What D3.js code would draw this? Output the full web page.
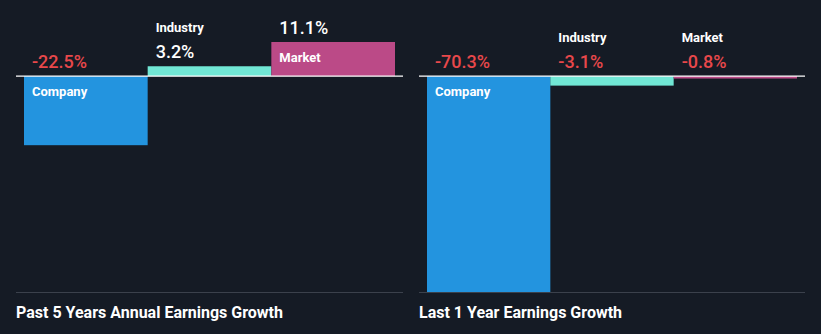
<!DOCTYPE html>
<html>
<head>
<meta charset="utf-8">
<script src="https://cdn.jsdelivr.net/npm/d3@7"></script>
<style>
  html, body { margin: 0; padding: 0; background: #151b25; }
  svg { display: block; font-family: Roboto, "Noto Sans", sans-serif; }
</style>
</head>
<body>
<svg id="chart" width="821" height="334"></svg>
<script>
const categories = ["Company", "Industry", "Market"];
const panelTitles = ["Past 5 Years Annual Earnings Growth", "Last 1 Year Earnings Growth"];
const past5Years = [-22.5, 3.2, 11.1];
const last1Year = [-70.3, -3.1, -0.8];
const colors = ["#2394df", "#71e7d5", "#bb4a87"];

const W = 821, H = 334;
const svg = d3.select("#chart");
svg.append("rect").attr("width", W).attr("height", H).attr("fill", "#151b25");

const allVals = past5Years.concat(last1Year);
const y = d3.scaleLinear()
  .domain([d3.min(allVals), d3.max(allVals)])
  .range([292, 42]);
const y0 = y(0);
const fmt = v => d3.format(".1f")(v).replace("\u2212", "-") + "%";

const panels = [
  { title: panelTitles[0], values: past5Years, x0: 16, x1: 403 },
  { title: panelTitles[1], values: last1Year, x0: 419, x1: 805 }
];

panels.forEach(p => {
  const g = svg.append("g");
  const x = d3.scaleBand().domain(categories).range([p.x0 + 8, p.x1 - 8]).padding(0);
  const data = categories.map((c, i) => ({ c, v: p.values[i], color: colors[i] }));

  g.append("line").attr("x1", p.x0).attr("x2", p.x1)
    .attr("y1", 292.5).attr("y2", 292.5)
    .attr("stroke", "#3b414c").attr("stroke-width", 1);

  g.selectAll("rect.bar").data(data).enter().append("rect")
    .attr("class", "bar")
    .attr("x", d => x(d.c))
    .attr("width", x.bandwidth())
    .attr("y", d => Math.min(y(d.v), y0))
    .attr("height", d => Math.abs(y(d.v) - y0))
    .attr("fill", d => d.color);

  g.append("line").attr("x1", p.x0).attr("x2", p.x1)
    .attr("y1", y0).attr("y2", y0)
    .attr("stroke", "#ffffff").attr("stroke-width", 1.2);

  data.forEach(d => {
    const top = Math.min(y(d.v), y0);
    const h = Math.abs(y(d.v) - y0);
    const tx = x(d.c) + 8;
    const valY = top - 8;
    g.append("text").attr("x", tx).attr("y", valY)
      .attr("font-size", 18).attr("font-weight", 500)
      .attr("fill", d.v < 0 ? "#e8484b" : "#ffffff")
      .text(fmt(d.v));
    const inside = h > 30;
    g.append("text").attr("x", tx)
      .attr("y", inside ? top + 20 : valY - 26)
      .attr("font-size", 13).attr("font-weight", 700)
      .attr("fill", "#ffffff")
      .text(d.c);
  });

  g.append("text").attr("x", p.x0).attr("y", 318)
    .attr("font-size", 16).attr("font-weight", 700)
    .attr("fill", "#ffffff")
    .text(p.title);
});
</script>
</body>
</html>
